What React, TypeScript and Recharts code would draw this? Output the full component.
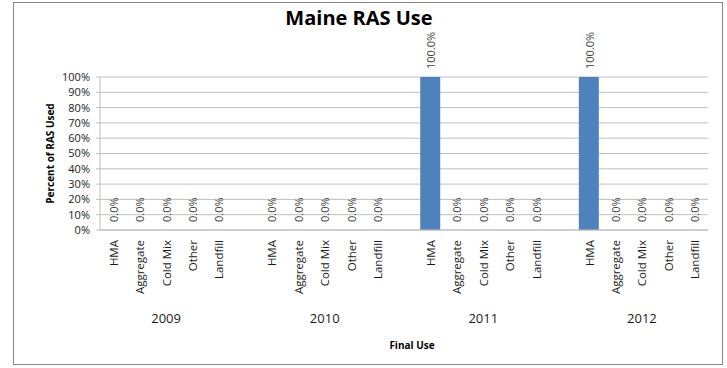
import { Bar, ComposedChart, CartesianGrid, LabelList, Line, XAxis, YAxis } from 'recharts'

const YEARS = ['2009', '2010', '2011', '2012']
const USES = ['HMA', 'Aggregate', 'Cold Mix', 'Other', 'Landfill']
const VALUES_2009 = [0, 0, 0, 0, 0]
const VALUES_2010 = [0, 0, 0, 0, 0]
const VALUES_2011 = [100, 0, 0, 0, 0]
const VALUES_2012 = [100, 0, 0, 0, 0]
const Y_TICKS = [0, 10, 20, 30, 40, 50, 60, 70, 80, 90, 100]

const BAR = '#4f81bd'
const GRID = '#bfbfbf'
const FONT = '"Open Sans", Arial, sans-serif'

type Row = { key: string; use: string; year: string; value: number | null }

const byYear = [VALUES_2009, VALUES_2010, VALUES_2011, VALUES_2012]
const ROWS: Row[] = []
YEARS.forEach((year, i) => {
  if (i > 0) ROWS.push({ key: `gap-${i}`, use: '', year: '', value: null })
  USES.forEach((use, j) => {
    ROWS.push({ key: `${year}-${use}`, use, year: j === 2 ? year : '', value: byYear[i][j] })
  })
})

function UseTick(props: any) {
  const { x, y, index } = props
  const row = ROWS[index]
  if (!row || !row.use) return null
  return (
    <text
      transform={`translate(${x},${y + 2}) rotate(-90)`}
      textAnchor="end"
      dominantBaseline="central"
      fontSize={11.5}
      fontFamily={FONT}
      fill="#1a1a1a"
    >
      {row.use}
    </text>
  )
}

function YearTick(props: any) {
  const { x, y, index } = props
  const row = ROWS[index]
  if (!row || !row.year) return null
  return (
    <text x={x} y={y + 10} textAnchor="middle" fontSize={13} fontFamily={FONT} fill="#1a1a1a">
      {row.year}
    </text>
  )
}

// labels sit on a hidden line so that zero-height bars still get one
function ValueLabel(props: any) {
  const { x, y, value } = props
  if (value == null) return null
  return (
    <text
      transform={`translate(${x},${y - 8}) rotate(-90)`}
      textAnchor="start"
      dominantBaseline="central"
      fontSize={11}
      fontFamily={FONT}
      fill="#404040"
    >
      {`${Number(value).toFixed(1)}%`}
    </text>
  )
}

export default function App() {
  return (
    <div style={{ position: 'fixed', left: 0, top: 0, width: 727, height: 368, background: '#fff' }}>
      <div
        style={{
          position: 'absolute',
          left: 13,
          top: 2,
          width: 708,
          height: 361,
          border: '1px solid #888',
        }}
      />
      <div
        style={{
          position: 'absolute',
          left: 0,
          width: 718,
          top: 4,
          textAlign: 'center',
          fontFamily: FONT,
          fontWeight: 700,
          fontSize: 20,
          color: '#000',
        }}
      >
        Maine RAS Use
      </div>
      <div style={{ position: 'absolute', left: 0, top: 0 }}>
        <ComposedChart
          width={727}
          height={368}
          data={ROWS}
          margin={{ top: 77, right: 19, left: 40, bottom: 13 }}
          barSize={20}
        >
          <CartesianGrid vertical={false} stroke={GRID} />
          <XAxis
            dataKey="key"
            interval={0}
            height={75}
            axisLine={{ stroke: GRID }}
            tickLine={false}
            tick={<UseTick />}
          />
          <XAxis
            xAxisId="year"
            dataKey="key"
            interval={0}
            height={50}
            axisLine={false}
            tickLine={false}
            tick={<YearTick />}
            label={{
              value: 'Final Use',
              position: 'insideBottom',
              offset: 6,
              dx: 8,
              fontSize: 10,
              fontWeight: 700,
              fontFamily: FONT,
              fill: '#000',
            }}
          />
          <YAxis
            domain={[0, 100]}
            ticks={Y_TICKS}
            interval={0}
            width={60}
            tickFormatter={(v) => `${v}%`}
            tick={{ fontSize: 11, fontFamily: FONT, fill: '#1a1a1a' }}
            axisLine={{ stroke: GRID }}
            tickLine={{ stroke: GRID }}
            tickSize={4}
            tickMargin={6}
            label={{
              value: 'Percent of RAS Used',
              angle: -90,
              position: 'insideLeft',
              offset: 10,
              fontSize: 10,
              fontWeight: 700,
              fontFamily: FONT,
              fill: '#000',
              style: { textAnchor: 'middle' },
            }}
          />
          <Bar dataKey="value" fill={BAR} isAnimationActive={false} />
          <Line
            dataKey="value"
            stroke="none"
            dot={false}
            activeDot={false}
            connectNulls={false}
            isAnimationActive={false}
          >
            <LabelList dataKey="value" content={<ValueLabel />} />
          </Line>
        </ComposedChart>
      </div>
    </div>
  )
}
